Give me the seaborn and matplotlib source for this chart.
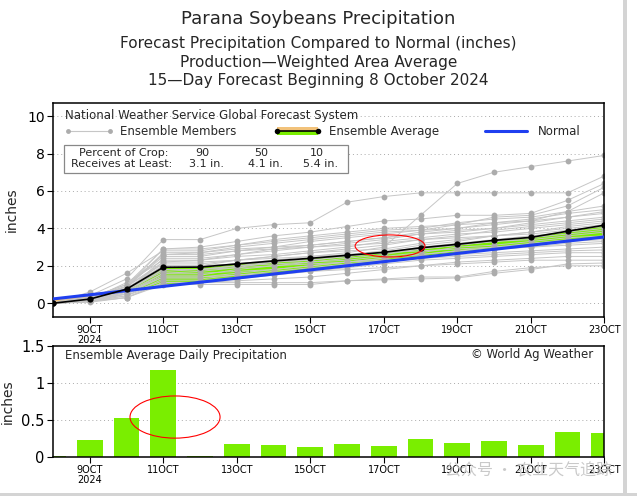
import numpy as np
import pandas as pd
import matplotlib
matplotlib.use('Agg')
import matplotlib.pyplot as plt
import seaborn as sns
from matplotlib.patches import Ellipse, Rectangle
from matplotlib.lines import Line2D

# days of October shown on the x axis
days = list(range(8, 24))
tick_days = [9, 11, 13, 15, 17, 19, 21, 23]
tick_labels = ['9OCT\n2024', '11OCT', '13OCT', '15OCT', '17OCT', '19OCT', '21OCT', '23OCT']

# cumulative ensemble average, normal, and daily ensemble average (inches)
ens_mean = [0.0, 0.22, 0.75, 1.92, 1.93, 2.10, 2.26, 2.40, 2.56, 2.72, 2.96, 3.15, 3.36, 3.52, 3.85, 4.17]
normal = [0.23, 0.45, 0.67, 0.90, 1.12, 1.34, 1.56, 1.78, 2.00, 2.22, 2.44, 2.66, 2.88, 3.10, 3.32, 3.54]
daily_precip = [0.01, 0.22, 0.52, 1.17, 0.01, 0.17, 0.16, 0.13, 0.17, 0.15, 0.24, 0.19, 0.21, 0.16, 0.33, 0.32]

# cumulative ensemble members
members = [
    [0, .2, .8, 2.0, 2.0, 2.1, 2.3, 2.5, 2.7, 3.0, 4.7, 6.4, 7.0, 7.3, 7.6, 7.9],
    [0, .4, 1.3, 3.4, 3.4, 4.0, 4.2, 4.3, 5.4, 5.7, 5.9, 5.9, 5.9, 5.9, 5.9, 6.8],
    [0, .3, 1.0, 2.9, 3.0, 3.3, 3.6, 3.8, 4.1, 4.4, 4.5, 4.7, 4.7, 4.8, 5.5, 6.4],
    [0, .2, .9, 2.6, 2.7, 3.0, 3.2, 3.4, 3.6, 3.8, 3.9, 4.2, 4.6, 4.7, 5.2, 6.2],
    [0, .6, 1.6, 2.8, 2.8, 3.1, 3.3, 3.5, 3.7, 3.9, 4.0, 4.3, 4.5, 4.6, 4.9, 5.9],
    [0, .3, .9, 2.5, 2.5, 2.8, 3.0, 3.3, 3.5, 3.7, 3.9, 4.0, 4.2, 4.4, 4.9, 5.2],
    [0, .2, .7, 2.2, 2.3, 2.6, 2.9, 3.1, 3.3, 3.5, 3.8, 4.0, 4.3, 4.5, 4.8, 5.0],
    [0, .1, .6, 2.4, 2.4, 2.6, 2.8, 3.0, 3.2, 3.4, 3.7, 3.9, 4.0, 4.3, 4.6, 4.9],
    [0, .3, .8, 2.7, 2.7, 2.9, 3.0, 3.1, 3.3, 3.5, 3.7, 3.8, 4.0, 4.2, 4.4, 4.6],
    [0, .2, .7, 1.9, 2.0, 2.3, 2.5, 2.7, 2.9, 3.1, 3.4, 3.6, 3.9, 4.1, 4.3, 4.5],
    [0, .2, 1.1, 2.3, 2.3, 2.5, 2.6, 2.8, 3.0, 3.3, 3.5, 3.7, 3.8, 4.0, 4.2, 4.4],
    [0, .1, .5, 1.6, 1.7, 1.9, 2.2, 2.4, 2.6, 2.8, 3.1, 3.3, 3.6, 3.8, 4.1, 4.3],
    [0, .2, .9, 2.1, 2.1, 2.3, 2.5, 2.7, 2.8, 2.9, 3.2, 3.4, 3.6, 3.8, 4.0, 4.2],
    [0, .3, 1.0, 2.6, 2.6, 2.8, 2.9, 3.0, 3.1, 3.2, 3.4, 3.5, 3.6, 3.7, 3.9, 4.1],
    [0, .2, .6, 1.8, 1.8, 2.0, 2.2, 2.3, 2.5, 2.7, 3.0, 3.2, 3.4, 3.6, 3.8, 4.0],
    [0, .1, .5, 1.5, 1.5, 1.8, 2.0, 2.2, 2.4, 2.6, 2.9, 3.1, 3.3, 3.5, 3.7, 3.9],
    [0, .2, .8, 2.0, 2.0, 2.1, 2.2, 2.3, 2.5, 2.7, 2.9, 3.1, 3.3, 3.4, 3.6, 3.8],
    [0, .1, .7, 1.7, 1.8, 2.0, 2.1, 2.2, 2.3, 2.5, 2.7, 3.0, 3.1, 3.3, 3.5, 3.6],
    [0, .2, .6, 1.4, 1.4, 1.6, 1.8, 2.0, 2.2, 2.4, 2.6, 2.8, 3.0, 3.2, 3.4, 3.5],
    [0, .3, .9, 2.2, 2.2, 2.3, 2.4, 2.5, 2.6, 2.7, 2.8, 2.9, 3.0, 3.1, 3.3, 3.4],
    [0, .1, .4, 1.3, 1.3, 1.5, 1.7, 1.9, 2.1, 2.3, 2.5, 2.7, 2.9, 3.0, 3.2, 3.3],
    [0, .2, .6, 1.6, 1.6, 1.7, 1.8, 2.0, 2.2, 2.4, 2.6, 2.8, 2.9, 3.0, 3.1, 3.2],
    [0, .1, .5, 1.2, 1.2, 1.4, 1.6, 1.8, 2.0, 2.2, 2.4, 2.6, 2.7, 2.8, 2.9, 3.0],
    [0, .2, .7, 1.8, 1.8, 1.9, 2.0, 2.1, 2.2, 2.3, 2.4, 2.5, 2.6, 2.7, 2.8, 2.85],
    [0, .1, .4, 1.1, 1.1, 1.3, 1.5, 1.7, 1.9, 2.1, 2.3, 2.4, 2.5, 2.6, 2.7, 2.7],
    [0, .1, .3, 1.1, 1.1, 1.2, 1.3, 1.4, 1.6, 1.8, 2.0, 2.2, 2.3, 2.4, 2.5, 2.5],
    [0, .2, .5, 1.4, 1.4, 1.5, 1.6, 1.7, 1.8, 1.9, 2.0, 2.1, 2.2, 2.3, 2.3, 2.3],
    [0, .1, .3, 1.0, 1.0, 1.0, 1.0, 1.0, 1.2, 1.25, 1.3, 1.35, 1.6, 1.8, 2.1, 2.15],
    [0, .05, .3, 1.1, 1.1, 1.1, 1.1, 1.1, 1.2, 1.3, 1.4, 1.4, 1.7, 1.9, 2.0, 2.0],
    [0, .2, .9, 2.9, 2.9, 3.1, 3.4, 3.6, 3.8, 4.0, 4.1, 4.2, 4.3, 4.4, 4.6, 4.8],
]

rows = []
for i, m in enumerate(members):
    for d, v in zip(days, m):
        rows.append({'member': i, 'day': d, 'precip': v})
df_members = pd.DataFrame(rows)

sns.set_style('white')
plt.rcParams['font.family'] = ['DejaVu Sans']

GREEN = '#7aee00'
ORANGE = '#f2c27a'
BLUE = '#1f3ff0'
GRAY = '#c6c6c6'
DOT = '#acacac'

fig = plt.figure(figsize=(6.37, 4.96), dpi=100)
ax = fig.add_axes([0.0832, 0.3615, 0.8655, 0.4308])
ax2 = fig.add_axes([0.0832, 0.0792, 0.8655, 0.2238])

# ---- top panel: cumulative precipitation
ax.fill_between(days, ens_mean, normal, where=np.array(ens_mean) >= np.array(normal),
                interpolate=True, color=GREEN, lw=0, zorder=1)
ax.fill_between(days, ens_mean, normal, where=np.array(ens_mean) < np.array(normal),
                interpolate=True, color=ORANGE, lw=0, zorder=1)
sns.lineplot(data=df_members, x='day', y='precip', units='member', estimator=None,
             color=GRAY, lw=0.7, marker='o', markersize=4.2, markeredgewidth=0,
             markerfacecolor=DOT, ax=ax, zorder=2, legend=False)
sns.lineplot(x=days, y=normal, color=BLUE, lw=2.2, ax=ax, zorder=3)
sns.lineplot(x=days, y=ens_mean, color='black', lw=1.2, marker='o', markersize=4.5,
             markeredgewidth=0, ax=ax, zorder=4)

ax.set_xlim(8, 23)
ax.set_ylim(-0.72, 10.7)
ax.set_yticks([0, 2, 4, 6, 8, 10])
ax.set_yticklabels(['0', '2', '4', '6', '8', '10'], fontsize=10)
ax.set_xticks(tick_days)
ax.set_xticklabels(tick_labels, fontsize=7, linespacing=1.0)
for y in [0, 2, 4, 6, 8, 10]:
    ax.axhline(y, color='#aaaaaa', lw=0.7, ls=(0, (1, 3)), zorder=0)
ax.set_xlabel('')
ax.set_ylabel('inches', fontsize=10)
ax.yaxis.set_label_coords(-0.062, 0.5)
ax.add_patch(Ellipse((17.17, 3.06), 1.9, 1.18, fill=False, ec='red', lw=0.8, zorder=6))

# legend drawn in axes fraction
ax.text(0.022, 0.941, 'National Weather Service Global Forecast System', transform=ax.transAxes,
        fontsize=8.5, va='center', ha='left')
ly = 0.869
ax.add_line(Line2D([0.027, 0.103], [ly, ly], transform=ax.transAxes, color=GRAY, lw=0.8,
                   marker='o', markersize=3.5, markeredgewidth=0, markerfacecolor=DOT))
ax.text(0.122, ly, 'Ensemble Members', transform=ax.transAxes, fontsize=8.5, va='center')
ax.add_patch(Rectangle((0.406, ly), 0.075, 0.02, transform=ax.transAxes, color=ORANGE, lw=0))
ax.add_patch(Rectangle((0.406, ly - 0.02), 0.075, 0.02, transform=ax.transAxes, color=GREEN, lw=0))
ax.add_line(Line2D([0.406, 0.481], [ly, ly], transform=ax.transAxes, color='black', lw=1.2,
                   marker='o', markersize=4, markeredgewidth=0))
ax.text(0.5006, ly, 'Ensemble Average', transform=ax.transAxes, fontsize=8.5, va='center')
ax.add_line(Line2D([0.784, 0.859], [ly, ly], transform=ax.transAxes, color=BLUE, lw=2.2))
ax.text(0.880, ly, 'Normal', transform=ax.transAxes, fontsize=8.5, va='center')

ax.add_patch(Rectangle((0.020, 0.674), 0.515, 0.129, transform=ax.transAxes, fill=False,
                       ec='#888888', lw=0.9, zorder=5))
ax.add_patch(Rectangle((0.020, 0.674), 0.515, 0.129, transform=ax.transAxes, fc='white',
                       lw=0, zorder=4.5))
ax.text(0.048, 0.765, 'Percent of Crop:', transform=ax.transAxes, fontsize=8, va='center', zorder=6)
ax.text(0.032, 0.714, 'Receives at Least:', transform=ax.transAxes, fontsize=8, va='center', zorder=6)
for xc, a, b in zip([0.27, 0.378, 0.478], ['90', '50', '10'], ['3.1 in.', '4.1 in.', '5.4 in.']):
    ax.text(xc, 0.765, a, transform=ax.transAxes, fontsize=8, va='center', ha='center', zorder=6)
    ax.text(xc + 0.008, 0.714, b, transform=ax.transAxes, fontsize=8, va='center', ha='center', zorder=6)

# ---- bottom panel: daily precipitation
sns.barplot(x=days, y=daily_precip, native_scale=True, color=GREEN, saturation=1,
            width=0.7, linewidth=0, ax=ax2, zorder=2)
ax2.set_xlim(8, 23)
ax2.set_ylim(0, 1.5)
ax2.set_yticks([0, 0.5, 1, 1.5])
ax2.set_yticklabels(['0', '0.5', '1', '1.5'], fontsize=10.5)
ax2.set_xticks(tick_days)
ax2.set_xticklabels(tick_labels, fontsize=7, linespacing=1.0)
for y in [0.5, 1.0]:
    ax2.axhline(y, color='#aaaaaa', lw=0.7, ls=(0, (1, 3)), zorder=0)
ax2.set_xlabel('')
ax2.set_ylabel('inches', fontsize=10)
ax2.yaxis.set_label_coords(-0.07, 0.5)
ax2.text(0.022, 0.91, 'Ensemble Average Daily Precipitation', transform=ax2.transAxes,
         fontsize=8.5, va='center')
ax2.text(0.98, 0.922, '\u00a9 World Ag Weather', transform=ax2.transAxes, fontsize=8.5,
         va='center', ha='right')
ax2.add_patch(Ellipse((11.32, 0.536), 2.45, 0.57, fill=False, ec='red', lw=0.8, zorder=6))

for a in [ax, ax2]:
    for s in a.spines.values():
        s.set_color('black')
        s.set_linewidth(1.1)
    a.tick_params(axis='both', direction='out', length=4, width=0.8, left=True, bottom=True,
                  pad=2, colors='black')

# titles
fig.text(0.5, 0.962, 'Parana Soybeans Precipitation', ha='center', va='center', fontsize=13)
fig.text(0.5, 0.9133, 'Forecast Precipitation Compared to Normal (inches)', ha='center', va='center', fontsize=11)
fig.text(0.5, 0.875, 'Production\u2014Weighted Area Average', ha='center', va='center', fontsize=11)
fig.text(0.5, 0.8367, '15\u2014Day Forecast Beginning 8 October 2024', ha='center', va='center', fontsize=11)

# watermark (overlaps the tick labels, as in the source image)
fig.text(0.83, 0.05, '公众号 · 农业天气追踪', ha='center', va='center', fontsize=11.5,
         color='#c4c4c4', alpha=0.9, family=['Noto Sans CJK SC', 'DejaVu Sans'])

fig.add_artist(Rectangle((0, 0), 1, 0.007, transform=fig.transFigure, color='#d4d4d4', lw=0))
fig.add_artist(Rectangle((0.978, 0), 0.006, 1, transform=fig.transFigure, color='#d4d4d4', lw=0))

fig.savefig('out.png', dpi=100)
